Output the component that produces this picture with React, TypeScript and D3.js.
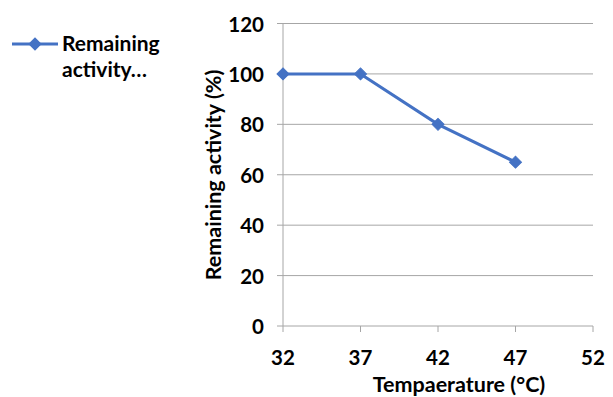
import React from "react";
import * as d3 from "d3";

// Temperature stability data
const temperatures = [32, 37, 42, 47];
const remainingActivity = [100, 100, 80, 65];
const xTicks = [32, 37, 42, 47, 52];
const yTicks = [0, 20, 40, 60, 80, 100, 120];
const legendLines = ["Remaining", "activity…"];
const xTitle = "Tempaerature (°C)";
const yTitle = "Remaining activity (%)";

const W = 613;
const H = 397;
const FONT = "Lato, 'Open Sans', sans-serif";
const BLUE = "#4472C4";
const GRID = "#a6a6a6";

export default function App() {
  const x = d3.scaleLinear().domain([32, 52]).range([283, 593]);
  const y = d3.scaleLinear().domain([0, 120]).range([326, 23.5]);
  const line = d3
    .line<number>()
    .x((_, i) => x(temperatures[i]))
    .y((d) => y(d));
  // square marker rotated 45° gives an even diamond
  const marker = d3.symbol(d3.symbolSquare, 72)() as string;

  return (
    <svg
      width={W}
      height={H}
      style={{ position: "absolute", left: 0, top: 0, background: "#fff" }}
      fontFamily={FONT}
    >
      {/* horizontal gridlines and y ticks */}
      {yTicks.map((t) => (
        <g key={"y" + t}>
          <line x1={277} x2={593} y1={y(t)} y2={y(t)} stroke={GRID} strokeWidth={1} />
          <text
            x={264}
            y={y(t)}
            textAnchor="end"
            dominantBaseline="central"
            fontSize={20.5}
            fontWeight={700}
            fill="#000"
          >
            {t}
          </text>
        </g>
      ))}
      {/* y axis line */}
      <line x1={x(32)} x2={x(32)} y1={y(120)} y2={y(0)} stroke={GRID} strokeWidth={1} />
      {/* x ticks */}
      {xTicks.map((t) => (
        <g key={"x" + t}>
          <line x1={x(t)} x2={x(t)} y1={y(0)} y2={y(0) + 6} stroke={GRID} strokeWidth={1} />
          <text
            x={x(t)}
            y={357}
            textAnchor="middle"
            dominantBaseline="central"
            fontSize={20.5}
            fontWeight={700}
            fill="#000"
          >
            {t}
          </text>
        </g>
      ))}
      {/* axis titles */}
      <text
        x={459}
        y={384}
        textAnchor="middle"
        dominantBaseline="central"
        fontSize={21.5}
        fontWeight={700}
        fill="#000"
      >
        {xTitle}
      </text>
      <text
        transform={`translate(213, 175) rotate(-90)`}
        textAnchor="middle"
        dominantBaseline="central"
        fontSize={21.5}
        fontWeight={700}
        fill="#000"
      >
        {yTitle}
      </text>
      {/* series */}
      <path d={line(remainingActivity) || ""} fill="none" stroke={BLUE} strokeWidth={3} />
      {remainingActivity.map((v, i) => (
        <path
          key={"m" + i}
          d={marker}
          transform={`translate(${x(temperatures[i])}, ${y(v)}) rotate(45)`}
          fill={BLUE}
          stroke={BLUE}
          strokeWidth={1}
        />
      ))}
      {/* legend */}
      <line x1={12} x2={58} y1={44} y2={44} stroke={BLUE} strokeWidth={3} />
      <path d={marker} transform="translate(35, 44) rotate(45)" fill={BLUE} stroke={BLUE} strokeWidth={1} />
      {legendLines.map((s, i) => (
        <text key={s} x={62} y={51 + i * 26} fontSize={21} fontWeight={700} fill="#000">
          {s}
        </text>
      ))}
    </svg>
  );
}
